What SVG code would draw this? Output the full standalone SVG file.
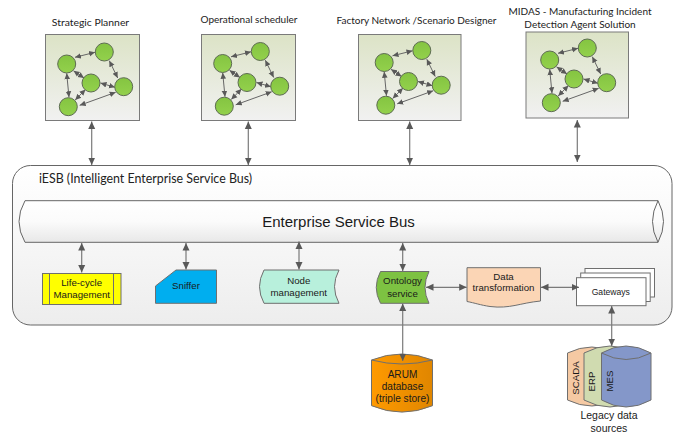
<svg xmlns="http://www.w3.org/2000/svg" xmlns:xlink="http://www.w3.org/1999/xlink" width="680" height="434" viewBox="0 0 680 434">
<style>
text{font-family:"Liberation Sans",Arial,sans-serif;fill:#1a1a1a;text-anchor:middle}
.t{font-family:Lato,"Liberation Sans",sans-serif;font-size:10px;fill:#222}
.s{font-size:9.7px}
.b{stroke:#6f6f6f;stroke-width:1}
.p{fill:url(#pg);stroke:#7a7a7a;stroke-width:1}
.c{fill:url(#cg);stroke:#5d6b52;stroke-width:1}
.e{stroke:#666;stroke-width:1;fill:none;marker-start:url(#ms);marker-end:url(#ms)}
.a{stroke:#7a7a7a;stroke-width:1.2;fill:none;marker-start:url(#ml);marker-end:url(#ml)}
</style>
<defs>
<linearGradient id="pg" x1="0" y1="0" x2="0" y2="1"><stop offset="0" stop-color="#dce3c6"/><stop offset="1" stop-color="#f1f1f1"/></linearGradient>
<linearGradient id="cg" x1="0" y1="0" x2="0" y2="1"><stop offset="0" stop-color="#84c441"/><stop offset="1" stop-color="#93d14c"/></linearGradient>
<linearGradient id="og" x1="0" y1="0" x2="0" y2="1"><stop offset="0" stop-color="#ffffff"/><stop offset="1" stop-color="#ededed"/></linearGradient>
<linearGradient id="bg" x1="0" y1="0" x2="0" y2="1"><stop offset="0" stop-color="#ffffff"/><stop offset="0.5" stop-color="#fbfbfb"/><stop offset="1" stop-color="#e8e8e8"/></linearGradient>
<linearGradient id="dg" x1="0" y1="0" x2="1" y2="0"><stop offset="0" stop-color="#ff9a00"/><stop offset="1" stop-color="#e08600"/></linearGradient>
<marker id="ms" markerUnits="userSpaceOnUse" markerWidth="7" markerHeight="7" viewBox="0 0 7 7" refX="6" refY="3.5" orient="auto-start-reverse"><path d="M0,0.7L6,3.500L0,6.300z" fill="#595959"/></marker>
<marker id="ml" markerUnits="userSpaceOnUse" markerWidth="8" markerHeight="8" viewBox="0 0 8 8" refX="7.5" refY="4" orient="auto-start-reverse"><path d="M0,0.5L7.5,4L0,7.5z" fill="#595959"/></marker>
<g id="cluster">
<path class="e" d="M75,57.3L95,52.3"/>
<path class="e" d="M109.3,60.7L117.7,78"/>
<path class="e" d="M73.500,70.800L84,78"/>
<path class="e" d="M100.500,83L115,87.3"/>
<path class="e" d="M66.700,73.300L69,97.300"/>
<path class="e" d="M85.500,89.500L75.200,100"/>
<path class="e" d="M115.700,92.300L79.700,105.300"/>
<circle class="c" cx="66.7" cy="64" r="9"/>
<circle class="c" cx="104.3" cy="52" r="9"/>
<circle class="c" cx="91" cy="83" r="9"/>
<circle class="c" cx="123.7" cy="86.7" r="9"/>
<circle class="c" cx="68.3" cy="106.7" r="9"/>
</g>
</defs>

<g id="strategic-planner">
<rect class="p" x="45.5" y="34.5" width="94" height="86"/>
<use xlink:href="#cluster" href="#cluster"/>
<text class="t" x="90.5" y="26" style="font-size:10.4px">Strategic Planner</text>
</g>
<g id="operational-scheduler">
<rect class="p" x="201.5" y="34.5" width="94" height="86"/>
<use xlink:href="#cluster" href="#cluster" transform="translate(156,-0.5)"/>
<text class="t" x="249" y="23">Operational scheduler</text>
</g>
<g id="factory-network">
<rect class="p" x="358.5" y="34.5" width="102.500" height="86"/>
<use xlink:href="#cluster" href="#cluster" transform="translate(317.500,-1.500)"/>
<text class="t" x="416.500" y="24">Factory Network /Scenario Designer</text>
</g>
<g id="midas">
<rect class="p" x="526" y="32" width="102.500" height="86"/>
<use xlink:href="#cluster" href="#cluster" transform="translate(483,-4)"/>
<text class="t" x="580" y="15">MIDAS - Manufacturing Incident</text>
<text class="t" x="580" y="28">Detection Agent Solution</text>
</g>

<g id="iesb">
<rect x="12.500" y="165.500" width="659.500" height="159.500" rx="18" ry="18" fill="url(#og)" stroke="#666" stroke-width="1"/>
<text x="145.500" y="183" style="font-family:Lato,'Liberation Sans',sans-serif;font-size:12.400px;fill:#222">iESB (Intelligent Enterprise Service Bus)</text>
</g>
<g id="enterprise-service-bus">
<path d="M25,200.700H658Q669,221.500 658,242.300H25Q13,221.500 25,200.700z" fill="url(#bg)" stroke="#666" stroke-width="1"/>
<path d="M658,200.700Q647,221.500 658,242.300" fill="none" stroke="#666" stroke-width="1"/>
<text x="338.500" y="226.500" style="font-size:15px">Enterprise Service Bus</text>
</g>
<g id="life-cycle">
<rect class="b" x="42.500" y="273.500" width="78.500" height="31" fill="#ffff00"/>
<path class="b" d="M49.500,273.500V304.500M113.500,273.500V304.500" fill="none"/>
<text class="s" x="81.700" y="286">Life-cycle</text>
<text class="s" x="81.700" y="298">Management</text>
</g>
<g id="sniffer">
<path class="b" d="M176,270H216.500V303.300H155.500V286z" fill="#00aeef"/>
<text class="s" x="186" y="289">Sniffer</text>
</g>
<g id="node-management">
<path class="b" d="M264,270H339Q330,286.700 339,303.300H264Q255,286.700 264,270z" fill="#b8f0dc"/>
<text class="s" x="298.800" y="284">Node</text>
<text class="s" x="298.800" y="295.500">management</text>
</g>
<g id="ontology-service">
<path class="b" d="M380.500,271.500H429Q421,287.500 429,303.300H380.500Q372,287.500 380.500,271.500z" fill="#7dc242"/>
<text class="s" x="402.500" y="284">Ontology</text>
<text class="s" x="402.500" y="296.500">service</text>
</g>
<g id="data-transformation">
<path class="b" d="M467,267.700H540.500V301C520,303 510,309 490,306.500C480,305 475,303 467,301.500z" fill="#fbd5b5"/>
<text class="s" x="503.500" y="279.500">Data</text>
<text class="s" x="503.500" y="291">transformation</text>
</g>
<g id="gateways">
<rect class="b" x="585" y="268.500" width="69.500" height="28.500" fill="#fff"/>
<rect class="b" x="580.700" y="273" width="69.500" height="28.500" fill="#fff"/>
<rect class="b" x="576.500" y="277.700" width="69.500" height="28" fill="#fff"/>
<text x="610.800" y="295" style="font-size:8.600px">Gateways</text>
</g>
<g id="arum-database">
<path d="M371.500,360Q402,348 432.500,360V405.700Q402,418.500 371.500,405.700z" fill="url(#dg)" stroke="#6f6f6f" stroke-width="1"/>
<path d="M371.500,360Q402,368 432.500,360" fill="none" stroke="#6f6f6f" stroke-width="1"/>
<text x="402.500" y="378" style="font-size:10.100px">ARUM</text>
<text x="402.500" y="390" style="font-size:10.100px">database</text>
<text x="402.500" y="402" style="font-size:10.100px">(triple store)</text>
</g>
<g id="legacy-data-sources">
<path d="M567.500,353Q592,341 616,353V400Q592,412 567.500,400z" fill="#f5c9a3" stroke="#6f6f6f" stroke-width="1"/>
<text transform="translate(579,378) rotate(-90)" class="s">SCADA</text>
<path d="M584,353Q610,339 636,353V400Q610,414 584,400z" fill="#d0dbb0" stroke="#6f6f6f" stroke-width="1"/>
<text transform="translate(594.500,381.500) rotate(-90)" class="s">ERP</text>
<path d="M601.500,353Q626,339 651,353V400Q626,414 601.500,400z" fill="#8497c9" stroke="#6f6f6f" stroke-width="1"/>
<path d="M601.500,353Q626,366 651,353" fill="none" stroke="#6f6f6f" stroke-width="1"/>
<text transform="translate(612.500,381) rotate(-90)" class="s">MES</text>
<text x="609" y="419" style="font-size:10.500px">Legacy data</text>
<text x="609" y="431.500" style="font-size:10.500px">sources</text>
</g>

<g id="connectors">
<path class="a" d="M91.700,121.500V165"/>
<path class="a" d="M248.300,121.500V165"/>
<path class="a" d="M409.700,121.500V165"/>
<path class="a" d="M577.300,120V162"/>
<path class="a" d="M81.700,243V272.500"/>
<path class="a" d="M186,243V269.500"/>
<path class="a" d="M299,241.500V269.500"/>
<path class="a" d="M402.700,243V271"/>
<path class="a" d="M426,287.300H466.700"/>
<path class="a" d="M541,287.300H579"/>
<path class="a" d="M402.700,303.500V361"/>
<path class="a" d="M611.700,306V346"/>
</g>
</svg>
